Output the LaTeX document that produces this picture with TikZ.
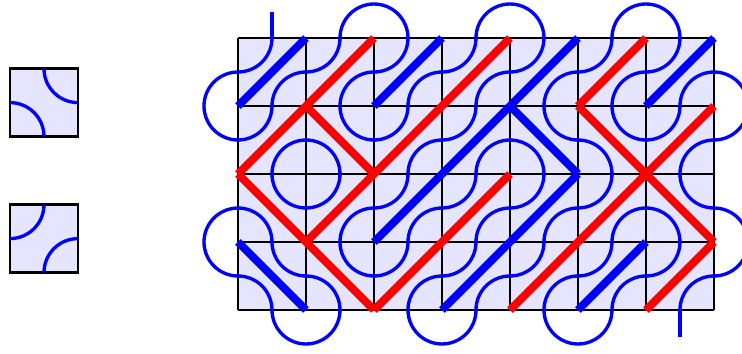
\documentclass[tikz,border=0pt]{standalone}
\usepackage[dvipsnames]{xcolor}

\begin{document}
\begin{tikzpicture}
        \tikzset{tile/.style={
            draw,
            fill=blue!10,
            line width=1.1pt,
        }}
        \tikzset{strand/.style={
            blue,
            line width=1.4pt,
        }}
        \tikzset{diag/.style={
            #1,
            line width=3.3pt,
        }}
        \tikzset{pics/truchet/.style={code={
            \draw[strand] (0,0.5) arc [start angle=0, end angle=-90, radius=0.5];
            \draw[strand] (0.5,0) arc [start angle=90, end angle=180, radius=0.5];
        }}}
        \tikzset{pics/truchetdiag/.style={code={
            \draw[diag=#1] (-0.5,-0.5) -- (0.5,0.5);
            \draw[strand] (0,0.5) arc [start angle=0, end angle=-90, radius=0.5];
            \draw[strand] (0.5,0) arc [start angle=90, end angle=180, radius=0.5];
        }}}
        \useasboundingbox (-3.5,-0.647) rectangle (7.412,4.559);

        % the two tiles
        \begin{scope}
            \draw[tile] (-3.353,2.55) rectangle (-2.353,3.55);
            \pic[rotate=90] (key1) at (-2.853,3.05) {truchet};
            \draw[tile] (-3.353,0.55) rectangle (-2.353,1.55);
            \pic (key2) at (-2.853,1.05) {truchet};
        \end{scope}

        % the pattern
        \begin{scope}
            \fill[blue!10] (0,0) rectangle (7,4);
            \draw[line width=0.8pt] (0,0) grid (7,4);
            \foreach \x/\y/\r/\col in {
                0/3/0/blue, 1/3/0/red, 2/3/0/blue, 3/3/0/red, 4/3/0/blue, 5/3/0/red, 6/3/0/blue,
                0/2/0/red, 1/2/90/red, 2/2/0/red, 3/2/0/blue, 4/2/90/blue, 5/2/90/red, 6/2/0/red,
                0/1/90/red, 1/1/0/red, 2/1/0/blue, 3/1/0/red, 4/1/0/blue, 5/1/0/red, 6/1/90/red,
                0/0/90/blue, 1/0/90/red, 2/0/0/red, 3/0/0/blue, 4/0/0/red, 5/0/0/blue, 6/0/0/red}
                \pic[rotate=\r] at (\x+0.5,\y+0.5) {truchetdiag=\col};

            % closing the strands round the border
            \foreach \x in {2,4,6}
                \draw[strand] (\x-0.5,4) arc [start angle=180, end angle=0, radius=0.5];
            \foreach \x in {1,3,5}
                \draw[strand] (\x-0.5,0) arc [start angle=180, end angle=360, radius=0.5];
            \foreach \y in {1,3} {
                \draw[strand] (0,\y+0.5) arc [start angle=90, end angle=270, radius=0.5];
                \draw[strand] (7,\y+0.5) arc [start angle=90, end angle=-90, radius=0.5];
            }
            \coordinate (top) at (0.5,4.38);
            \coordinate (bottom) at (6.5,-0.4);
            \draw[strand] (0.5,4) -- (top);
            \draw[strand] (6.5,0) -- (bottom);
        \end{scope}
\end{tikzpicture}
\end{document}
